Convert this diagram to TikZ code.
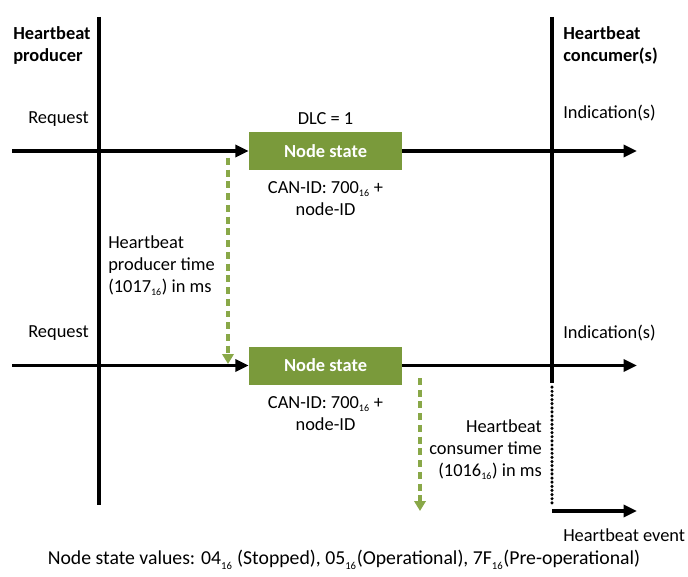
\documentclass[tikz,border=0pt]{standalone}
\usepackage{fontspec}
\setmainfont{Carlito}
\usetikzlibrary{arrows.meta}
\definecolor{boxgreen}{RGB}{122,154,59}
\definecolor{dashgreen}{RGB}{137,168,72}
\newcommand{\hxs}[1]{\textsubscript{\fontsize{7.5}{8}\selectfont #1}}
\newcommand{\hxl}[1]{\raisebox{-1.2pt}{\textsubscript{\fontsize{8}{8}\selectfont #1}}}
\begin{document}
\begin{tikzpicture}[x=0.75pt,y=-0.75pt,
  every node/.style={font=\fontsize{13.8}{16.5}\selectfont, inner sep=0pt},
  headtxt/.style={font=\fontsize{13.8}{16.5}\selectfont\bfseries, anchor=west, align=left},
  life/.style={line width=2.4pt, black},
  waitline/.style={line width=2.6pt, black, line cap=round, dash pattern=on 0pt off 3.1pt},
  msg/.style={line width=2.4pt, -{Triangle[length=10pt,width=9pt]}},
  stateb/.style={fill=boxgreen, minimum width=114.75pt, minimum height=28.5pt, text=white, font=\fontsize{13.8}{16.5}\selectfont\bfseries},
  timer/.style={dashgreen, line width=2.4pt, dash pattern=on 5.2pt off 3.6pt, -{Triangle[length=7.5pt,width=8.5pt]}}
  ]
\useasboundingbox (0,0) rectangle (688,577);
% life lines
\coordinate (ptop) at (99,17);
\coordinate (pbot) at (99,505);
\coordinate (ctop) at (552,17);
\coordinate (cmid) at (552,383);
\coordinate (cdot) at (552,504);
\coordinate (cbot) at (552,511);
\draw[life] (ptop) -- (pbot);
\draw[life] (ctop) -- (cmid);
\draw[waitline] ([yshift=-3.1pt]cmid) -- (cdot);
% headings
\node[headtxt] (prod) at (13,45.5) {Heartbeat\\producer};
\node[headtxt] (cons) at (563,45.5) {Heartbeat\\concumer(s)};
% first message
\node[anchor=east] (req1) at (89,119) {Request};
\node (dlc) at (325.5,119) {DLC = 1};
\node[anchor=west] (ind1) at (563,113) {Indication(s)};
\node[stateb] (b1) at (325.5,151) {Node state};
\coordinate (s1) at (12,151);
\coordinate (e1) at (637,151);
\draw[msg] (s1) -- (b1.west);
\draw[msg] (b1.east) -- (e1);
\node[align=center] (can1) at (325.5,199) {CAN-ID: 700\hxs{16} +\\node-ID};
% producer timer
\coordinate (t1s) at (228,158);
\coordinate (t1e) at (228,364);
\draw[timer] (t1s) -- (t1e);
\node[anchor=west, align=left] (ptime) at (108,266) {Heartbeat\\producer time\\(1017\hxs{16}) in ms};
% second message
\node[anchor=east] (req2) at (89,333) {Request};
\node[anchor=west] (ind2) at (563,333) {Indication(s)};
\node[stateb] (b2) at (325.5,365.5) {Node state};
\coordinate (s2) at (12,365.5);
\coordinate (e2) at (637,365.5);
\draw[msg] (s2) -- (b2.west);
\draw[msg] (b2.east) -- (e2);
\node[align=center] (can2) at (325.5,414) {CAN-ID: 700\hxs{16} +\\node-ID};
% consumer timer
\coordinate (t2s) at (420,378);
\coordinate (t2e) at (420,511);
\draw[timer] (t2s) -- (t2e);
\node[anchor=east, align=right] (ctime) at (542,450) {Heartbeat\\consumer time\\(1016\hxs{16}) in ms};
% heartbeat event
\coordinate (ev) at (637,511);
\draw[msg] (cbot) -- (ev);
\node[anchor=west] (hbev) at (563,535) {Heartbeat event};
% legend
\node[font=\fontsize{14.8}{17}\selectfont] (vals) at (344,560) {Node state values: 04\hxl{16} (Stopped), 05\hxl{16}(Operational), 7F\hxl{16}(Pre-operational)};
\end{tikzpicture}
\end{document}
